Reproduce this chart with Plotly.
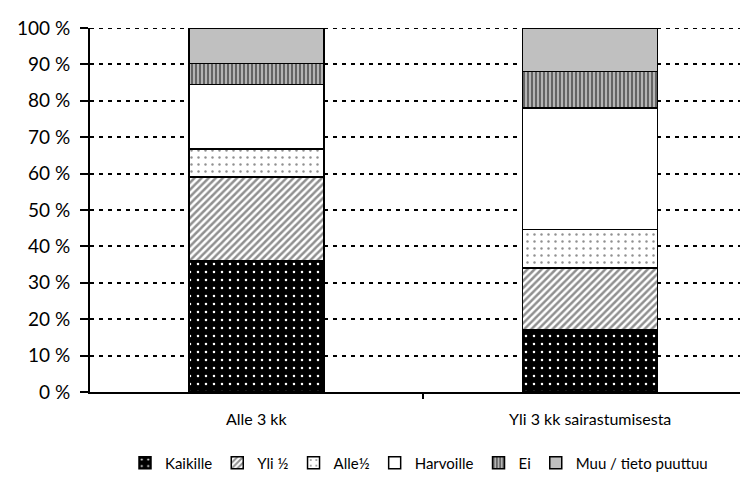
import plotly.graph_objects as go

categories = ["Alle 3 kk", "Yli 3 kk sairastumisesta"]
series_names = ["Kaikille", "Yli ½", "Alle½", "Harvoille", "Ei", "Muu / tieto puuttuu"]
kaikille = [36.0, 17.0]
yli_puolet = [23.0, 17.0]
alle_puolet = [7.7, 10.7]
harvoille = [17.8, 33.3]
ei = [5.8, 10.0]
muu = [9.7, 12.0]
y_ticks = [0, 10, 20, 30, 40, 50, 60, 70, 80, 90, 100]
y_tick_labels = [f"{v} %" for v in y_ticks]

values = [kaikille, yli_puolet, alle_puolet, harvoille, ei, muu]
styles = [
    dict(color="black", pattern=dict(shape=".", bgcolor="black", fgcolor="white", size=8, solidity=0.08, fillmode="replace")),
    dict(color="white", pattern=dict(shape="/", bgcolor="white", fgcolor="#222", size=5, solidity=0.5)),
    dict(color="white", pattern=dict(shape=".", bgcolor="white", fgcolor="#222", size=7, solidity=0.1)),
    dict(color="white"),
    dict(color="#c8c8c8", pattern=dict(shape="|", bgcolor="#c8c8c8", fgcolor="black", size=4, solidity=0.6)),
    dict(color="#c0c0c0"),
]

FONT = "Lato, Noto Sans, sans-serif"

fig = go.Figure()
for name, vals, st in zip(series_names, values, styles):
    fig.add_trace(go.Bar(
        x=categories, y=vals, name=name, width=0.405,
        marker=dict(line=dict(color="black", width=1.5), **st),
    ))

fig.update_layout(
    barmode="stack",
    width=748, height=489,
    margin=dict(l=82, r=8, t=16, b=105),
    plot_bgcolor="white", paper_bgcolor="white",
    font=dict(family=FONT, size=15, color="black"),
    legend=dict(orientation="h", x=0.5, xanchor="center", y=-0.15, yanchor="top",
                font=dict(size=15, family=FONT), itemwidth=30, traceorder="normal"),
    showlegend=True,
)
fig.update_xaxes(
    range=[-0.5, 1.474], showline=True, linecolor="black", linewidth=2,
    ticks="outside", tickcolor="black", ticklen=5, tickwidth=1.5,
    tickmode="array", tickvals=[0.5], ticktext=[""],
    showgrid=False,
)
for i, c in enumerate(categories):
    fig.add_annotation(x=i, y=0, yref="y", text=c, showarrow=False, yshift=-26,
                       font=dict(size=16, family=FONT))
fig.add_shape(type="line", xref="paper", yref="y", x0=0, x1=1, y0=100, y1=100,
              line=dict(color="black", width=2, dash="4px,5px"), layer="below")
fig.update_yaxes(
    range=[0, 100], showline=True, linecolor="black", linewidth=2,
    ticks="outside", tickcolor="black", ticklen=8, tickwidth=1.5,
    tickvals=y_ticks, ticktext=y_tick_labels, tickfont=dict(size=19, family=FONT),
    ticklabelstandoff=6, ticklabeloverflow="allow",
    showgrid=True, gridcolor="black", gridwidth=2, griddash="4px,5px",
    zeroline=False,
)
fig.write_html("out.html")
